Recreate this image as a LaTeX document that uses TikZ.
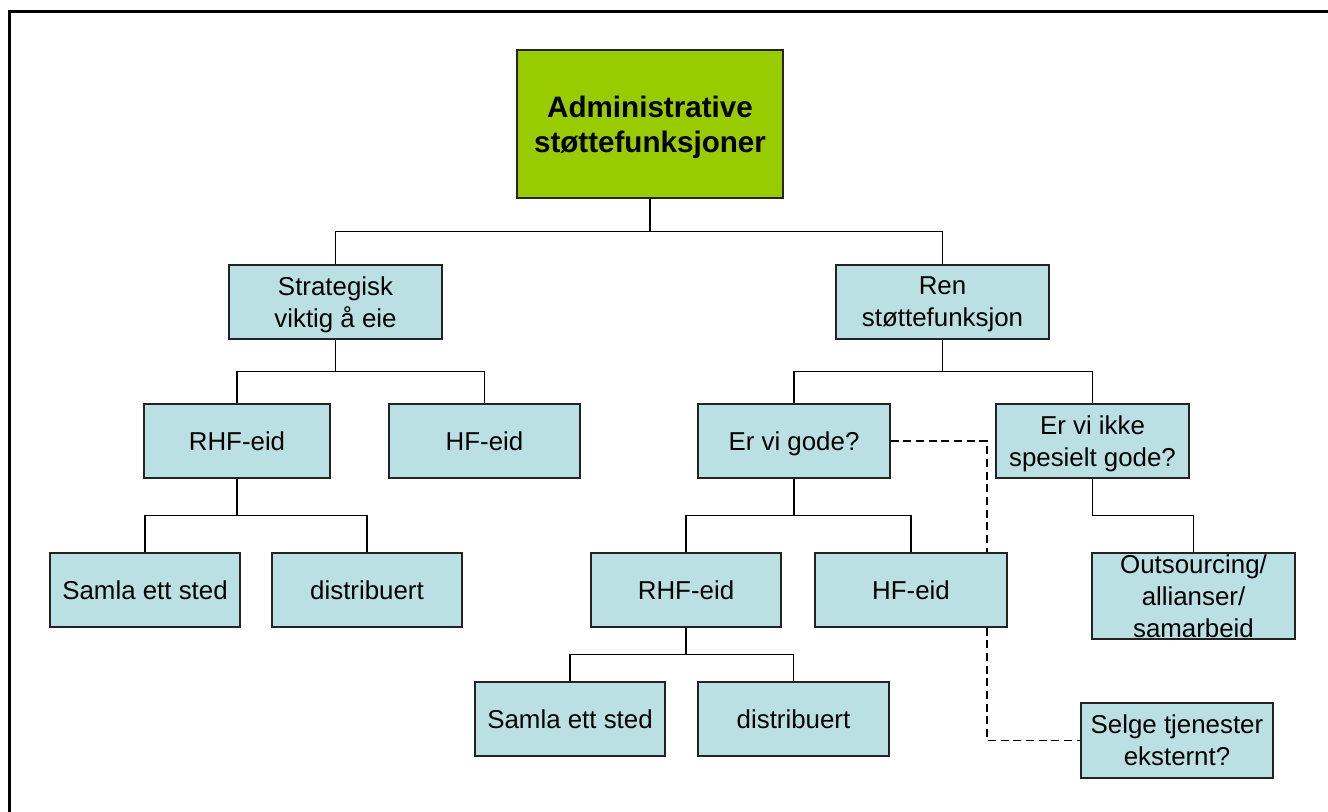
\documentclass[tikz,border=0pt]{standalone}
\usepackage{fontspec}
\setmainfont{Liberation Sans}
\usetikzlibrary{calc}
\definecolor{boxblue}{RGB}{187,224,227}
\definecolor{topgreen}{RGB}{153,204,0}
\definecolor{edgegray}{RGB}{35,35,35}

\begin{document}
\begin{tikzpicture}[x=0.75pt,y=-0.75pt,
  box/.style={draw=edgegray, line width=1.2pt, fill=boxblue, inner sep=0pt,
    align=center, text depth=0pt, font=\fontsize{19.4}{24}\selectfont},
  sz/.style 2 args={minimum width=#1*0.75pt, minimum height=#2*0.75pt},
  oneline/.style={text height=13.9pt, text depth=0pt},
  link/.style={draw=black, line width=1.3pt},
  dashlink/.style={link, line width=1.4pt, dash pattern=on 6pt off 3.5pt},
]
\useasboundingbox (0,0) rectangle (1328,812);

% outer frame (only top and left edges fall inside the page)
\draw[line width=2.25pt] (9,830) -- (9,12) -- (1345,12);

% root
\node[box, fill=topgreen, sz={266}{148}, font=\fontsize{22.2}{26}\selectfont\bfseries]
  (top) at (650,124) {Administrative\\støttefunksjoner};

% level 1
\node[box, sz={213}{74}] (strat) at (335.5,302) {Strategisk\\viktig å eie};
\node[box, sz={213}{74}] (ren)   at (942.5,302) {Ren\\støttefunksjon};

% level 2
\node[box, oneline, sz={186}{74}] (rhfA) at (237,441)   {RHF-eid};
\node[box, oneline, sz={191}{74}] (hfA)  at (484.5,441) {HF-eid};
\node[box, oneline, sz={192}{74}] (gode) at (794,441)   {Er vi gode?};
\node[box, sz={193}{74}] (ikke) at (1092.5,441) {Er vi ikke\\spesielt gode?};

% level 3
\node[box, oneline, sz={190}{74}] (samlaA) at (145,590)   {Samla ett sted};
\node[box, oneline, sz={190}{74}] (distA)  at (367,590)   {distribuert};
\node[box, oneline, sz={190}{74}] (rhfB)   at (686,590)   {RHF-eid};
\node[box, oneline, sz={192}{74}] (hfB)    at (911,590)   {HF-eid};
\node[box, sz={203}{86}] (outs) at (1193.5,596) {};
\node[align=center, inner sep=0pt, font=\fontsize{19.4}{24}\selectfont]
  (outstext) at (outs.center) {Outsourcing/\\allianser/\\samarbeid};

% level 4
\node[box, oneline, sz={190}{74}] (samlaB) at (570,719)   {Samla ett sted};
\node[box, oneline, sz={191}{74}] (distB)  at (793.5,719) {distribuert};
\node[box, sz={192}{75}] (selge) at (1177,740.5) {Selge tjenester\\eksternt?};

% tree connectors
\draw[link] (top.south) |- ($(top.south)!.5!(strat.north)$) -| (strat.north);
\draw[link] (top.south) |- ($(top.south)!.5!(ren.north)$) -| (ren.north);

\draw[link] (strat.south) |- ($(strat.south)!.5!(rhfA.north)$) -| (rhfA.north);
\draw[link] (strat.south) |- ($(strat.south)!.5!(hfA.north)$) -| (hfA.north);

\draw[link] (rhfA.south) |- ($(rhfA.south)!.5!(samlaA.north)$) -| (samlaA.north);
\draw[link] (rhfA.south) |- ($(rhfA.south)!.5!(distA.north)$) -| (distA.north);

\draw[link] (ren.south) |- ($(ren.south)!.5!(gode.north)$) -| (gode.north);
\draw[link] (ren.south) |- ($(ren.south)!.5!(ikke.north)$) -| (ikke.north);

\draw[link] (gode.south) |- ($(gode.south)!.5!(rhfB.north)$) -| (rhfB.north);
\draw[link] (gode.south) |- ($(gode.south)!.5!(hfB.north)$) -| (hfB.north);

\draw[link] (ikke.south) |- ($(ikke.south)!.5!(outs.north)$) -| (outs.north);

\draw[link] (rhfB.south) |- ($(rhfB.south)!.5!(samlaB.north)$) -| (samlaB.north);
\draw[link] (rhfB.south) |- ($(rhfB.south)!.5!(distB.north)$) -| (distB.north);

% dashed side route through HF-eid to external sales
\coordinate (dx) at ($(hfB.north east)+(-21,0)$);
\draw[dashlink] (gode.east) -| (dx);
\draw[dashlink] (hfB.south -| dx) |- (selge.west);

\end{tikzpicture}
\end{document}
